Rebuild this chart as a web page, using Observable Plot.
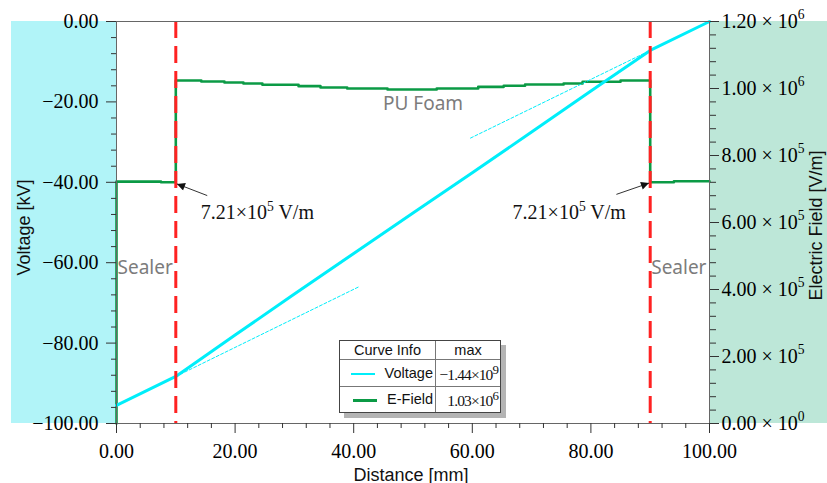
<!DOCTYPE html>
<html>
<head>
<meta charset="utf-8">
<script src="https://cdn.jsdelivr.net/npm/d3@7"></script>
<script src="https://cdn.jsdelivr.net/npm/@observablehq/plot@0.6"></script>
<style>
  html, body { margin: 0; padding: 0; background: #fff; }
  #wrap { position: relative; width: 827px; height: 483px; overflow: hidden; }
  .panel { position: absolute; }
  #chart { position: absolute; left: 0; top: 0; }
  #legend { position: absolute; left: 339px; top: 340px; width: 162px; height: 73px;
    background: #fff; border: 1px solid #444; box-shadow: 5px 5px 0 #b4b4b4; box-sizing: border-box; }
  #legend table { border-collapse: collapse; width: 100%; height: 100%; font-family: "Liberation Sans", Arial, sans-serif; font-size: 14.5px; color: #111; }
  #legend td { border: 1px solid #777; padding: 0 2px; white-space: nowrap; }
  #legend tr:first-child td { border-top: none; }
  #legend tr:last-child td { border-bottom: none; }
  #legend td:first-child { border-left: none; }
  #legend td:last-child { border-right: none; }
  .val { font-family: "Liberation Serif", serif; font-size: 15.5px; letter-spacing: -0.9px; text-align: right; }
  .sw { display: inline-block; width: 24px; height: 2.5px; vertical-align: middle; margin-right: 10px; }
</style>
</head>
<body>
<div id="wrap">
  <div class="panel" style="left:11px;top:21px;width:105px;height:402px;background:#b1f4f8;"></div>
  <div class="panel" style="left:709px;top:21px;width:118px;height:402px;background:#bde7d8;"></div>
  <div id="chart"></div>
  <div id="legend"></div>
</div>
<script>
// ---- data ----
const xTicks = [0, 20, 40, 60, 80, 100];
const xMinorTicks = [4, 8, 12, 16, 24, 28, 32, 36, 44, 48, 52, 56, 64, 68, 72, 76, 84, 88, 92, 96];
const vTicks = [-100, -80, -60, -40, -20, 0];
const vMinorTicks = [-96, -92, -88, -84, -76, -72, -68, -64, -56, -52, -48, -44, -36, -32, -28, -24, -16, -12, -8, -4];
const eTicks = [0, 2e5, 4e5, 6e5, 8e5, 1e6, 1.2e6];
const eTickLabels = ["0.00 × 10{0}", "2.00 × 10{5}", "4.00 × 10{5}", "6.00 × 10{5}", "8.00 × 10{5}", "1.00 × 10{6}", "1.20 × 10{6}"];
const eMinorTicks = [4e4, 8e4, 1.2e5, 1.6e5, 2.4e5, 2.8e5, 3.2e5, 3.6e5, 4.4e5, 4.8e5, 5.2e5, 5.6e5, 6.4e5, 6.8e5, 7.2e5, 7.6e5, 8.4e5, 8.8e5, 9.2e5, 9.6e5, 1.04e6, 1.08e6, 1.12e6, 1.16e6];
const E_MAX = 1.2e6;

// Voltage [kV] vs distance [mm]
const voltX = [0, 10, 20, 30, 40, 50, 60, 70, 80, 90, 100];
const voltY = [-95.5, -88.3, -78.0, -67.8, -57.7, -47.65, -37.6, -27.5, -17.3, -7.2, 0];

// Electric field [V/m] vs distance [mm] (stepped)
const fieldX = [0, 0, 7.5, 10, 10, 14.3, 18.2, 21.4, 24.6, 30.7, 34.4, 38.9, 45.7, 54.0, 61.0, 65.3, 68.9, 75.4, 78.6, 85.0, 90, 90, 94, 100];
const fieldE = [0, 7.22e5, 7.20e5, 7.20e5, 1.024e6, 1.021e6, 1.018e6, 1.015e6, 1.011e6, 1.007e6, 1.003e6, 1.000e6, 0.997e6, 1.000e6, 1.005e6, 1.008e6, 1.012e6, 1.015e6, 1.020e6, 1.024e6, 1.024e6, 7.20e5, 7.23e5, 7.23e5];

// thin dashed extensions of the sealer slopes
const tangentLeftX = [10, 41];
const tangentLeftY = [-88.3, -65.9];
const tangentRightX = [59.7, 90];
const tangentRightY = [-29.0, -7.2];

const boundaries = [10, 90];

const sealerLabels = [
  {x: 0, y: -61.4, text: "Sealer"},
  {x: 90, y: -61.4, text: "Sealer"}
];
const foamLabel = [{x: 51.7, y: -20.6, text: "PU Foam"}];
const annotations = [
  {x: 14.2, y: -47.6, text: "7.21×10{5} V/m"},
  {x: 66.8, y: -47.6, text: "7.21×10{5} V/m"}
];
const arrows = [
  {x1: 15.3, y1: -43.3, x2: 10.2, y2: -40.4},
  {x1: 84.3, y1: -43.0, x2: 89.8, y2: -40.2}
];

const legendNames = ["Voltage", "E-Field"];
const legendMax = ["−1.44×10<sup>9</sup>", "1.03×10<sup>6</sup>"];

// ---- build ----
const toV = e => e / E_MAX * 100 - 100;
const voltRows = voltX.map((x, i) => ({x, y: voltY[i]}));
const fieldRows = fieldX.map((x, i) => ({x, y: toV(fieldE[i])}));
const tanL = tangentLeftX.map((x, i) => ({x, y: tangentLeftY[i]}));
const tanR = tangentRightX.map((x, i) => ({x, y: tangentRightY[i]}));

const CYAN = "#00eefa";
const GREEN = "#0b9a45";
const fmtV = d => (d < 0 ? "−" : "") + Math.abs(d).toFixed(2);

const plot = Plot.plot({
  width: 827, height: 483,
  marginLeft: 116, marginRight: 118, marginTop: 21, marginBottom: 60,
  x: {domain: [0, 100], axis: null},
  y: {domain: [-100, 0], axis: null},
  style: {background: "transparent", fontFamily: "Liberation Serif", fontSize: "20px", color: "#000", overflow: "visible"},
  marks: [
    Plot.line(fieldRows, {x: "x", y: "y", stroke: GREEN, strokeWidth: 2.6, curve: "step-after"}),
    Plot.line(tanL, {x: "x", y: "y", stroke: CYAN, strokeWidth: 1, strokeDasharray: "3,2"}),
    Plot.line(tanR, {x: "x", y: "y", stroke: CYAN, strokeWidth: 1, strokeDasharray: "3,2"}),
    Plot.line(voltRows, {x: "x", y: "y", stroke: CYAN, strokeWidth: 3}),
    Plot.ruleX(boundaries, {stroke: "#ff2222", strokeWidth: 3, strokeDasharray: "17,8"}),
    Plot.frame({stroke: "#666", strokeWidth: 1}),
    // left axis
    Plot.axisY({ticks: vTicks, anchor: "left", tickSize: 10, tickPadding: 8, tickFormat: fmtV, stroke: "#333"}),
    Plot.axisY({ticks: vMinorTicks, anchor: "left", tickSize: 5, tickFormat: () => "", stroke: "#333"}),
    // right axis (E-field)
    Plot.axisY({ticks: eTicks.map(toV), anchor: "right", tickSize: 9, tickPadding: 3, stroke: "#333",
      tickFormat: d => eTickLabels[Math.round((d + 100) / (100 / 6))]}),
    Plot.axisY({ticks: eMinorTicks.map(toV), anchor: "right", tickSize: 6, tickFormat: () => "", stroke: "#333"}),
    // bottom axis
    Plot.axisX({ticks: xTicks, anchor: "bottom", tickSize: 10, tickPadding: 10, tickFormat: d => d.toFixed(2), stroke: "#333"}),
    Plot.axisX({ticks: xMinorTicks, anchor: "bottom", tickSize: 5, tickFormat: () => "", stroke: "#333"}),
    // region labels
    Plot.text(sealerLabels, {x: "x", y: "y", text: "text", textAnchor: "start", dx: 1,
      fill: "#7c7c7c", fontFamily: "Noto Sans", fontSize: 19}),
    Plot.text(foamLabel, {x: "x", y: "y", text: "text", textAnchor: "middle",
      fill: "#7c7c7c", fontFamily: "Noto Sans", fontSize: 19}),
    // annotations
    Plot.text(annotations, {x: "x", y: "y", text: "text", textAnchor: "start", fill: "#111",
      fontFamily: "Liberation Serif", fontSize: 20}),
    Plot.link(arrows, {x1: "x1", y1: "y1", x2: "x2", y2: "y2", stroke: "#333", strokeWidth: 1, markerEnd: "arrow"}),
    // axis titles
    Plot.text(["Voltage [kV]"], {frameAnchor: "left", dx: -92, dy: 5, rotate: -90, textAnchor: "middle", lineAnchor: "middle",
      fontFamily: "Liberation Sans", fontSize: 18, fill: "#111"}),
    Plot.text(["Electric Field [V/m]"], {frameAnchor: "right", dx: 107, dy: 3, rotate: -90, textAnchor: "middle", lineAnchor: "middle",
      fontFamily: "Liberation Sans", fontSize: 18, fill: "#111"}),
    Plot.text(["Distance [mm]"], {frameAnchor: "bottom", dx: -2, dy: 57, textAnchor: "middle", lineAnchor: "bottom",
      fontFamily: "Liberation Sans", fontSize: 18, fill: "#111"})
  ]
});
document.getElementById("chart").appendChild(plot);

// superscripts for "{n}" in svg text
const NS = "http://www.w3.org/2000/svg";
plot.querySelectorAll("text").forEach(t => {
  const s = t.textContent;
  if (!s.includes("{")) return;
  t.textContent = "";
  const parts = s.split(/(\{[^}]*\})/).filter(p => p.length);
  let raised = false;
  parts.forEach(p => {
    const ts = document.createElementNS(NS, "tspan");
    if (p.startsWith("{")) {
      ts.textContent = p.slice(1, -1);
      ts.setAttribute("font-size", "0.68em");
      ts.setAttribute("dy", "-0.62em");
      raised = true;
    } else {
      ts.textContent = p;
      if (raised) { ts.setAttribute("dy", "0.42em"); raised = false; }
    }
    t.appendChild(ts);
  });
});

// filled arrowheads
plot.querySelectorAll("marker").forEach(m => {
  m.setAttribute("viewBox", "0 0 10 10");
  m.setAttribute("refX", "10");
  m.setAttribute("refY", "5");
  m.setAttribute("markerWidth", "11");
  m.setAttribute("markerHeight", "8");
  m.setAttribute("markerUnits", "userSpaceOnUse");
  m.setAttribute("orient", "auto");
  m.setAttribute("fill", "#111");
  m.setAttribute("stroke", "none");
  m.innerHTML = "";
  const p = document.createElementNS(NS, "path");
  p.setAttribute("d", "M0,0L10,5L0,10z");
  p.setAttribute("fill", "#111");
  p.setAttribute("stroke", "none");
  m.appendChild(p);
});

// legend
const colors = [CYAN, GREEN];
let html = '<table><tr><td style="text-align:center;width:91px">Curve Info</td><td style="text-align:center">max</td></tr>';
legendNames.forEach((n, i) => {
  html += `<tr><td style="text-align:right"><span class="sw" style="background:${colors[i]}"></span>${n}</td><td class="val">${legendMax[i]}</td></tr>`;
});
html += '</table>';
document.getElementById("legend").innerHTML = html;
</script>
</body>
</html>
